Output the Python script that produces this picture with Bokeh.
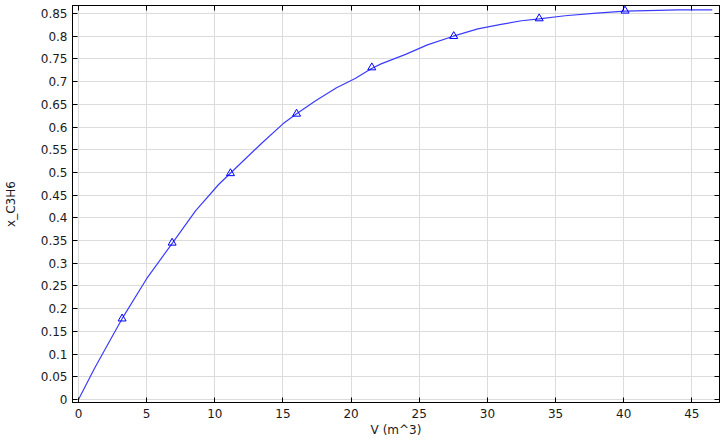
from bokeh.plotting import figure
from bokeh.models import Range1d, FixedTicker, CustomJSTickFormatter, LinearAxis
from bokeh.embed import file_html
from bokeh.resources import INLINE

# line data (V in m^3, x_C3H6)
line_V = [0, 1.2, 2.4, 3.2, 5.0, 6.9, 8.6, 10.3, 12.0, 13.5, 15.0, 16.0, 17.4, 18.9,
          20.3, 21.5, 22.2, 24.0, 25.6, 27.5, 29.3, 31.0, 32.5, 33.8, 35.7, 38.0,
          40.1, 42.5, 44.0, 46.5]
line_x = [0, 0.07, 0.135, 0.178, 0.266, 0.345, 0.416, 0.474, 0.523, 0.566, 0.607, 0.629,
          0.658, 0.686, 0.707, 0.729, 0.739, 0.760, 0.781, 0.800, 0.816, 0.826, 0.834,
          0.838, 0.845, 0.851, 0.855, 0.857, 0.858, 0.858]
# marker data
mark_V = [3.2, 6.87, 11.15, 16.0, 21.52, 27.53, 33.8, 40.1]
mark_x = [0.178, 0.345, 0.498, 0.629, 0.731, 0.800, 0.839, 0.856]

x_ticks = [0, 5, 10, 15, 20, 25, 30, 35, 40, 45]
y_ticks = [0, 0.05, 0.1, 0.15, 0.2, 0.25, 0.3, 0.35, 0.4, 0.45, 0.5, 0.55, 0.6, 0.65,
           0.7, 0.75, 0.8, 0.85]

FONT = "DejaVu Sans"

p = figure(width=724, height=443, output_backend="svg", toolbar_location=None,
           x_range=Range1d(-0.44, 47.03), y_range=Range1d(-0.0066, 0.8676),
           min_border_left=72, min_border_right=5, min_border_top=5, min_border_bottom=41,
           x_axis_label="V (m^3)", y_axis_label="x_C3H6")
p.background_fill_color = "white"
p.border_fill_color = "white"
p.outline_line_color = "black"
p.outline_line_width = 1

fmt = CustomJSTickFormatter(code="return tick.toFixed(2).replace(/0+$/,'').replace(/\\.$/,'');")

for ax in p.xaxis:
    ax.ticker = FixedTicker(ticks=x_ticks)
    ax.formatter = fmt
    ax.major_label_standoff = 6
    ax.axis_label_standoff = 2
for ax in p.yaxis:
    ax.ticker = FixedTicker(ticks=y_ticks)
    ax.formatter = fmt
    ax.major_label_standoff = 5
    ax.axis_label_standoff = 20

for ax in p.xaxis + p.yaxis:
    ax.major_tick_in = 5
    ax.major_tick_out = 0
    ax.minor_tick_line_color = None
    ax.axis_line_color = "black"
    ax.major_tick_line_color = "black"
    ax.major_label_text_font = FONT
    ax.major_label_text_font_size = "12px"
    ax.major_label_text_color = "#1a1a1a"
    ax.axis_label_text_font = FONT
    ax.axis_label_text_font_size = "12px"
    ax.axis_label_text_font_style = "normal"
    ax.axis_label_text_color = "#1a1a1a"

top = LinearAxis(ticker=FixedTicker(ticks=x_ticks), major_tick_in=5, major_tick_out=0,
                 minor_tick_line_color=None, major_label_text_font_size="1px",
                 major_label_text_color=None,
                 major_label_standoff=0, axis_line_color="black")
right = LinearAxis(ticker=FixedTicker(ticks=y_ticks), major_tick_in=5, major_tick_out=0,
                   minor_tick_line_color=None, major_label_text_font_size="1px",
                   major_label_text_color=None,
                   major_label_standoff=0, axis_line_color="black")
p.add_layout(top, "above")
p.add_layout(right, "right")

p.xgrid.ticker = FixedTicker(ticks=x_ticks)
p.ygrid.ticker = FixedTicker(ticks=y_ticks)
p.grid.grid_line_color = "#dcdcdc"
p.grid.grid_line_width = 1

p.line(line_V, line_x, line_color="#3c3cff", line_width=1.2)
p.scatter(mark_V, mark_x, marker="triangle", size=8, fill_color=None,
          line_color="#0000ff", line_width=1)

open("out.html", "w").write(file_html(p, INLINE))
